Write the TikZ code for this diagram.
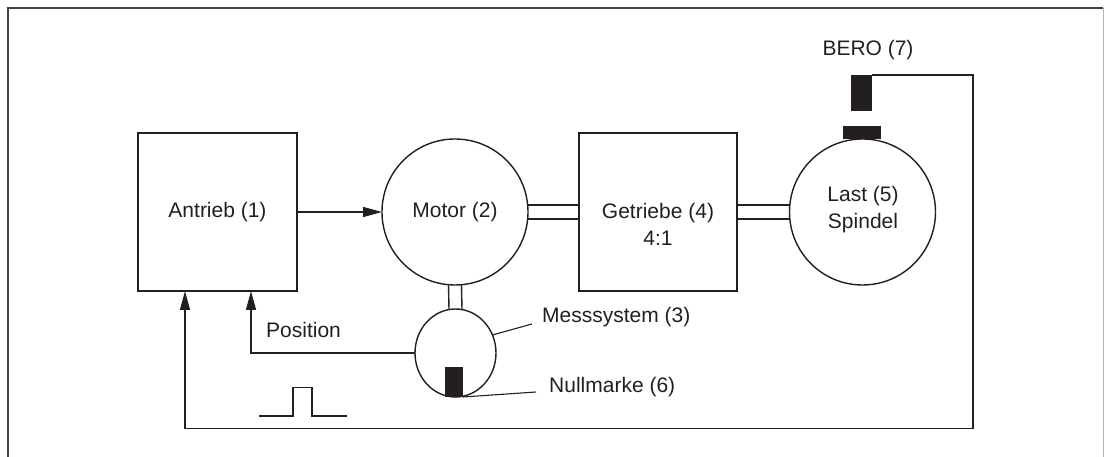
\documentclass[tikz,border=0pt]{standalone}
\usepackage{fontspec}
\setmainfont{Liberation Sans}
\usetikzlibrary{arrows.meta,shapes.geometric}
\definecolor{ink}{HTML}{231F20}
\begin{document}
\begin{tikzpicture}[x=1pt,y=-1pt,
  every node/.style={font=\fontsize{21}{27}\selectfont, text=ink},
  ln/.style={draw=ink, line width=1.4pt},
  boxnode/.style={ln, rectangle, minimum width=159pt, minimum height=158pt, inner sep=0pt, outer sep=0pt},
  roundnode/.style={ln, circle, minimum size=146pt, inner sep=0pt, outer sep=0pt},
  blk/.style={fill=ink, draw=none, rectangle, inner sep=0pt, outer sep=0pt},
  arr/.style={ln, -{Triangle[length=19pt,width=10pt]}},
  lbl/.style={inner sep=0pt, anchor=west}
]
\useasboundingbox (0,0) rectangle (1104,457);
% frame
\draw[draw=ink!85, line width=1.6pt] (8,457) -- (8,8) -- (1103,8);
\draw[draw=gray!60, line width=1pt] (1103,8) -- (1103,457);

% main nodes
\node[boxnode] (antrieb) at (217.5,212) {Antrieb (1)};
\node[roundnode] (motor) at (455,212) {Motor (2)};
\node[boxnode, minimum width=158pt] (getriebe) at (658,212) {};
\node[align=center] (gtext) at (658,224.5) {Getriebe (4)\\4:1};
\node[roundnode] (last) at (862.5,212) {};
\node[align=center] (ltext) at (863,210) {Last (5)\\Spindel};
\node[ln, ellipse, minimum width=81pt, minimum height=88pt, inner sep=0pt, outer sep=0pt] (mess) at (455.5,353) {};

% black marks
\node[blk, minimum width=21pt, minimum height=36pt] (bero) at (861.5,93) {};
\node[blk, minimum width=38pt, minimum height=13pt] (smark) at (862,132.5) {};
\node[blk, minimum width=18pt, minimum height=30pt] (null) at (454,382) {};

% labels
\node (berolbl) at (868,50) {BERO (7)};
\node[lbl] (messlbl) at (542,317) {Messsystem (3)};
\node[lbl] (nulllbl) at (549,387) {Nullmarke (6)};
\node[lbl] (poslbl) at (266,330) {Position};

% coordinates
\coordinate (messlead) at (532,324);
\coordinate (nulllead) at (536,392);
\coordinate (corner1) at (973,75);
\coordinate (corner2) at (973,428.6);
\coordinate (corner3) at (185,428.6);
\coordinate (poscorner) at (251,353);

% shafts
\draw[ln] ([yshift=7pt]motor.east) -- ([yshift=7pt]getriebe.west);
\draw[ln] ([yshift=-7pt]motor.east) -- ([yshift=-7pt]getriebe.west);
\draw[ln] ([yshift=7pt]getriebe.east) -- ([yshift=7pt]last.west);
\draw[ln] ([yshift=-7pt]getriebe.east) -- ([yshift=-7pt]last.west);
\draw[ln] ([xshift=-6.5pt]motor.south) -- ([xshift=-6.5pt]mess.north);
\draw[ln] ([xshift=6.5pt]motor.south) -- ([xshift=6.5pt]mess.north);

% signal connections
\draw[arr] (antrieb.east) -- (motor.west);
\draw[arr] (mess.west) -- (poscorner) -- ([xshift=33.5pt]antrieb.south);
\draw[arr] (bero.north east) -- (corner1) -- (corner2) -- (corner3) -- ([xshift=-32.5pt]antrieb.south);

% leaders
\draw[draw=ink, line width=1.1pt] (mess.26) -- (messlead);
\draw[draw=ink, line width=1.1pt] (null.south east) -- (nulllead);

% pulse
\draw[draw=ink, line width=1.1pt] (259,416) -- (293,416) -- (293,387.5) -- (312,387.5) -- (312,416) -- (347,416);
\end{tikzpicture}
\end{document}
